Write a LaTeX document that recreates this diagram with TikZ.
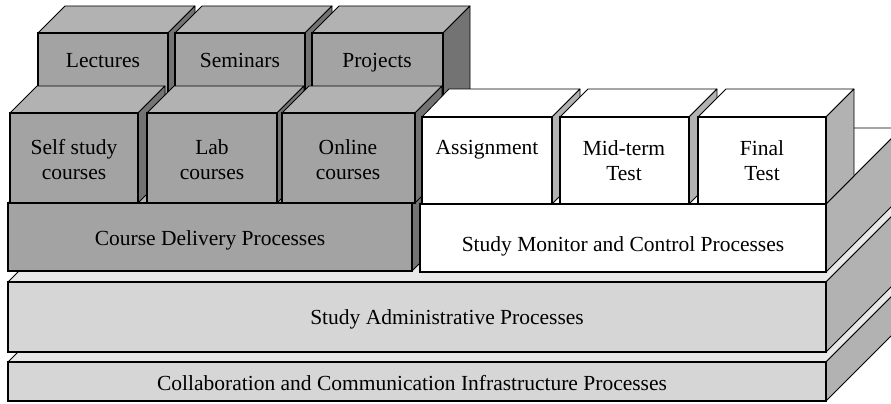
\documentclass[tikz,border=0pt]{standalone}
\usepackage{fontspec}
\setmainfont{Liberation Serif}
\tikzset{
  edge/.style={draw=black, line width=0.8pt, line join=round},
  face/.style={draw=black, line width=1.8pt},
  grayfront/.style={face, fill=black!36},
  graytop/.style={edge, fill=black!30},
  grayside/.style={edge, fill=black!55},
  whitefront/.style={face, fill=white},
  whitetop/.style={edge, fill=white},
  whiteside/.style={edge, fill=black!30},
  slabfront/.style={face, fill=black!16},
  slabtop/.style={edge, fill=black!9},
  slabside/.style={edge, fill=black!30},
  twoline/.style={font=\fontsize{21.5}{25}\selectfont, align=center, inner sep=0pt},
  label/.style={twoline, anchor=base}
}

\begin{document}
\begin{tikzpicture}[x=1pt,y=-1pt]
    \clip (0,0) rectangle (891,404);
    \fill [white] (0,0) rectangle (891,404);
    % base slabs
    \draw [slabtop] (8,362) -- (84,286) -- (902,286) -- (826,362) --cycle;
    \draw [slabside] (826,362) -- (902,286) -- (902,325) -- (826,401) --cycle;
    \draw [slabfront] (8,362) rectangle (826,401);
    \node [label] (collab) at (412,390) {Collaboration and Communication Infrastructure Processes};
    \draw [slabtop] (8,282) -- (84,206) -- (902,206) -- (826,282) --cycle;
    \draw [slabside] (826,282) -- (902,206) -- (902,276) -- (826,352) --cycle;
    \draw [slabfront] (8,282) rectangle (826,352);
    \node [label] (admin) at (447,324) {Study Administrative Processes};
    % course delivery slab
    \draw [graytop] (8,203) -- (84,127) -- (488,127) -- (412,203) --cycle;
    \draw [grayside] (412,203) -- (488,127) -- (488,195) -- (412,271) --cycle;
    \draw [grayfront] (8,203) rectangle (412,271);
    \node [label] (delivery) at (210,245) {Course Delivery Processes};
    % monitor slab
    \draw [whitetop] (420,204) -- (496,128) -- (902,128) -- (826,204) --cycle;
    \draw [whiteside] (826,204) -- (902,128) -- (902,196) -- (826,272) --cycle;
    \draw [whitefront] (420,204) rectangle (826,272);
    \node [label] (monitor) at (623,251) {Study Monitor and Control Processes};
    % back row
    \draw [graytop] (38,33) -- (65,6) -- (195,6) -- (168,33) --cycle;
    \draw [grayside] (168,33) -- (195,6) -- (195,103) -- (168,130) --cycle;
    \draw [grayfront] (38,33) rectangle (168,130);
    \node [label] (lectures) at (103,67) {Lectures};
    \draw [graytop] (175,33) -- (202,6) -- (332,6) -- (305,33) --cycle;
    \draw [grayside] (305,33) -- (332,6) -- (332,103) -- (305,130) --cycle;
    \draw [grayfront] (175,33) rectangle (305,130);
    \node [label] (seminars) at (240,67) {Seminars};
    \draw [graytop] (312,33) -- (339,6) -- (470,6) -- (443,33) --cycle;
    \draw [grayside] (443,33) -- (470,6) -- (470,103) -- (443,130) --cycle;
    \draw [grayfront] (312,33) rectangle (443,130);
    \node [label] (projects) at (377,67) {Projects};
    % front row
    \draw [graytop] (10,113) -- (37,86) -- (165,86) -- (138,113) --cycle;
    \draw [grayside] (138,113) -- (165,86) -- (165,176) -- (138,203) --cycle;
    \draw [grayfront] (10,113) rectangle (138,203);
    \node [twoline] (selfstudy) at (74,160) {Self study\\courses};
    \draw [graytop] (147,113) -- (174,86) -- (304,86) -- (277,113) --cycle;
    \draw [grayside] (277,113) -- (304,86) -- (304,176) -- (277,203) --cycle;
    \draw [grayfront] (147,113) rectangle (277,203);
    \node [twoline] (lab) at (212,160) {Lab\\courses};
    \draw [graytop] (282,113) -- (309,86) -- (442,86) -- (415,113) --cycle;
    \draw [grayside] (415,113) -- (442,86) -- (442,176) -- (415,203) --cycle;
    \draw [grayfront] (282,113) rectangle (415,203);
    \node [twoline] (online) at (348,160) {Online\\courses};
    % assessment row
    \draw [whitetop] (422,117) -- (449,89) -- (580,89) -- (552,117) --cycle;
    \draw [whiteside] (552,117) -- (580,89) -- (580,176) -- (552,204) --cycle;
    \draw [whitefront] (422,117) rectangle (552,204);
    \node [label] (assign) at (487,154) {Assignment};
    \draw [whitetop] (560,117) -- (588,89) -- (717,89) -- (689,117) --cycle;
    \draw [whiteside] (689,117) -- (717,89) -- (717,176) -- (689,204) --cycle;
    \draw [whitefront] (560,117) rectangle (689,204);
    \node [twoline] (midterm) at (624,161) {Mid-term\\Test};
    \draw [whitetop] (698,117) -- (726,89) -- (854,89) -- (826,117) --cycle;
    \draw [whiteside] (826,117) -- (854,89) -- (854,176) -- (826,204) --cycle;
    \draw [whitefront] (698,117) rectangle (826,204);
    \node [twoline] (final) at (762,161) {Final\\Test};
\end{tikzpicture}
\end{document}
